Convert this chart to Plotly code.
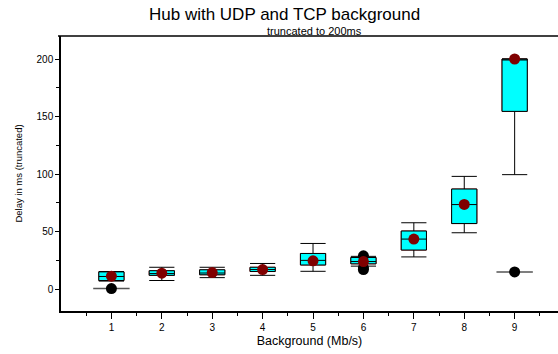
import plotly.graph_objects as go

categories = [1, 2, 3, 4, 5, 6, 7, 8, 9]
lower = [7, 7.5, 10, 12, 15.5, 20, 28, 49, 99.5]
q1 = [7.5, 12, 12.5, 15.3, 21, 22, 34, 57, 154.5]
median = [11, 13.5, 14, 17, 25, 24, 43.5, 73.5, 200]
q3 = [15, 16, 16.8, 19, 31, 27.5, 50.5, 87, 200]
upper = [15.3, 19, 19, 22.3, 39.7, 28.5, 57.7, 98, 200]
means = [11.3, 13.9, 14.4, 17, 24.6, 24, 43.5, 73.6, 200]
outlier_x = [1, 6, 6, 6, 9]
outlier_y = [0.5, 29, 18.5, 17, 15]
capped_x = [1, 9]
capped_y = [0.5, 15]

ytick_vals = [0, 50, 100, 150, 200]

FONT = "Liberation Sans, Arial, sans-serif"

fig = go.Figure()

fig.add_trace(go.Box(
    x=categories, q1=q1, median=median, q3=q3,
    lowerfence=lower, upperfence=upper,
    width=0.5, whiskerwidth=1,
    fillcolor="#00FFFF",
    line=dict(color="black", width=1),
    boxpoints=False, showlegend=False, hoverinfo="skip",
))

fig.add_trace(go.Bar(
    x=categories, base=q1, y=[b - a for a, b in zip(q1, q3)],
    width=0.5,
    marker=dict(color="rgba(0,0,0,0)", line=dict(color="#8B1010", width=1)),
    showlegend=False, hoverinfo="skip",
))

fig.add_trace(go.Scatter(
    x=capped_x, y=capped_y, mode="markers",
    marker=dict(symbol="line-ew", size=26, line=dict(color="#555555", width=1.5)),
    showlegend=False, hoverinfo="skip",
))

fig.add_trace(go.Scatter(
    x=outlier_x, y=outlier_y, mode="markers",
    marker=dict(symbol="circle", size=11, color="black"),
    showlegend=False,
))

fig.add_trace(go.Scatter(
    x=categories, y=means, mode="markers",
    marker=dict(symbol="circle", size=11, color="#800000"),
    showlegend=False,
))

fig.update_layout(
    width=558, height=354,
    margin=dict(l=61, r=0, t=36, b=43),
    paper_bgcolor="white", plot_bgcolor="white",
    font=dict(family=FONT, color="black", size=10),
    boxmode="overlay", barmode="overlay",
    title=dict(text="Hub with UDP and TCP background", x=0.51, xanchor="center",
               y=1 - 14 / 354, yanchor="middle",
               font=dict(size=17, family=FONT)),
    annotations=[dict(text="truncated to 200ms", xref="paper", yref="paper",
                      x=0.51, y=1 + 5 / 275, xanchor="center", yanchor="middle",
                      showarrow=False, font=dict(size=11, family=FONT))],
    shapes=[dict(type="line", xref="paper", yref="paper", x0=-0.006, x1=1.01, y0=1, y1=1,
                 line=dict(color="black", width=1.5))],
)

fig.update_xaxes(
    range=[0, 9.86], tickvals=categories, ticktext=[str(c) for c in categories],
    ticks="outside", ticklen=6, tickwidth=1, tickcolor="black",
    showline=True, linecolor="black", linewidth=1.5, mirror=False,
    showgrid=False, zeroline=False,
    minor=dict(tickvals=[c - 0.5 for c in categories] + [9.5], ticks="outside", ticklen=3,
               tickcolor="black", showgrid=False),
    title=dict(text="Background (Mb/s)", font=dict(size=12.5), standoff=4),
)

fig.update_yaxes(
    range=[-19, 220], tickvals=ytick_vals,
    ticks="outside", ticklen=4, tickwidth=1, tickcolor="black",
    showline=True, linecolor="black", linewidth=1.5, mirror=False,
    showgrid=False, zeroline=False,
    minor=dict(tickvals=[25, 75, 125, 175], ticks="outside", ticklen=3,
               tickcolor="black", showgrid=False),
    title=dict(text="Delay in ms (truncated)", font=dict(size=9.5), standoff=12),
)

fig.write_html("out.html")
